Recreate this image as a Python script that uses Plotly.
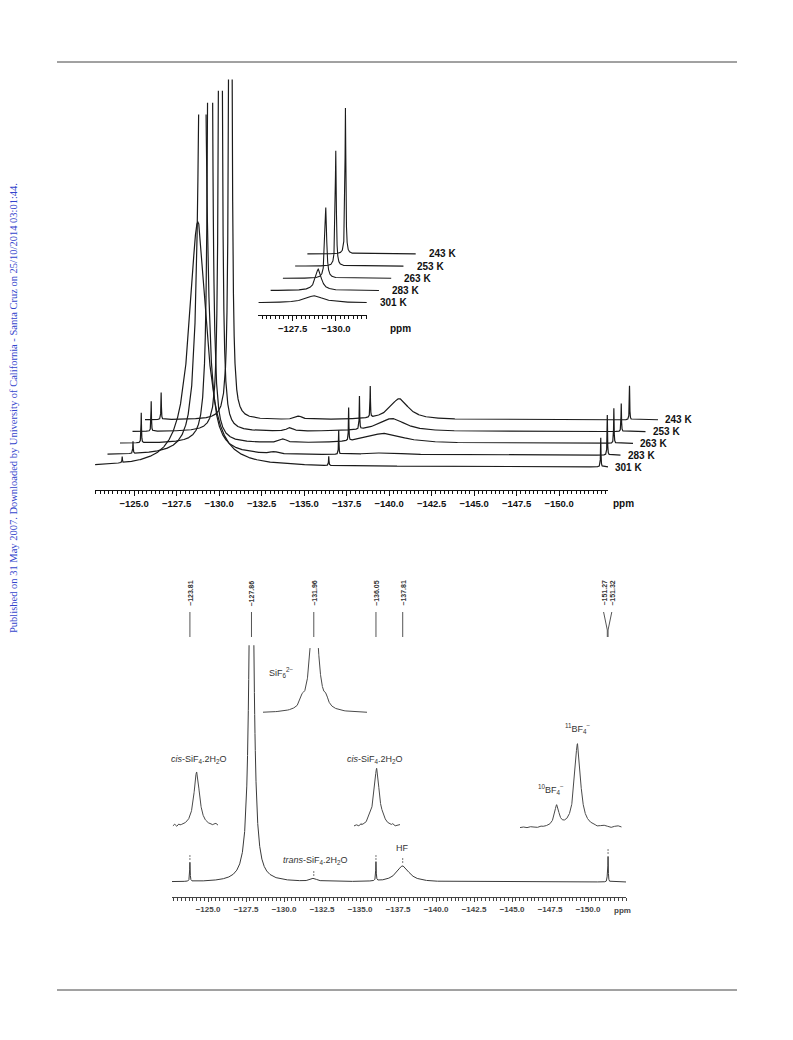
import numpy as np
import plotly.graph_objects as go

W, H = 793, 1040

# ======================= data =======================
temps = ["301 K", "283 K", "263 K", "253 K", "243 K"]

# variable-temperature stack (peak heights in px of the main stack)
sif6_ppm = [-128.75, -128.28, -128.00, -127.87, -127.72]
sif6_height = [245, 750, 2480, 4040, 5110]
sif6_fwhm = [1.20, 0.40, 0.12, 0.072, 0.058]

cisA_ppm = [-124.30, -124.20, -123.95, -123.80, -123.65]
cisA_height = [6, 12, 30, 30, 27]

trans_ppm = [-132.60, -132.50, -132.30, -131.95, -131.75]
trans_height = [0.5, 2.0, 3.6, 3.3, 3.3]

cisB_ppm = [-136.45, -136.30, -136.15, -136.05, -135.95]
cisB_height = [9, 24, 33, 33, 31]

hf_ppm = [-139.2, -139.0, -138.25, -137.95, -137.65]
hf_height = [0.5, 2.0, 10, 13, 21]
hf_fwhm = [3.0, 3.0, 2.6, 1.9, 1.3]

bf4_ppm = [-152.45, -152.10, -151.75, -151.45, -151.20]
bf4_height = [29, 40, 35, 28, 34]

top_tick_vals = [-125.0, -127.5, -130.0, -132.5, -135.0, -137.5, -140.0, -142.5, -145.0, -147.5, -150.0]
top_tick_text = ["−125.0", "−127.5", "−130.0", "−132.5", "−135.0", "−137.5", "−140.0", "−142.5", "−145.0", "−147.5", "−150.0"]
inset_tick_vals = [-127.5, -130.0]
inset_tick_text = ["−127.5", "−130.0"]

# room-temperature spectrum (bottom)
shift_ppm = [-123.81, -127.86, -131.96, -136.05, -137.81, -151.27, -151.32]
shift_text = ["−123.81", "−127.86", "−131.96", "−136.05", "−137.81", "−151.27", "−151.32"]
bottom_height = [19, 500, 3, 19, 16, 6, 25]
bottom_fwhm = [0.04, 0.30, 0.45, 0.04, 1.0, 0.03, 0.035]
marked_peaks = [0, 2, 3, 4, 6]

# expansions in the bottom spectrum: (ppm, height px, fwhm ppm)
sif6_exp = [(-127.86, 147, 0.09), (-127.714, 7, 0.05), (-128.006, 7, 0.05)]
cisL_exp = [(-123.81, 55, 0.056)]
cisL_ripple = [0, 1.5, -0.8, 1.2, 0.2, 2.0, -0.3, 1.0, 0.6, 1.8, 0.0, 2.5, 0.8, 1.6, 3.0, 1.0, 2.4, 0.3, 1.8, -0.2, 1.0, 2.0, 0.5]
cisM_exp = [(-136.05, 58, 0.05), (-135.998, 6, 0.03), (-136.103, 4, 0.03)]
cisM_ripple = [0, 0.8, -0.5, 1.0, 0.0, 1.6, 0.4, 1.2, 2.0, 0.5, 1.5, 0.3, 2.2, 0.6, 1.8, 0.0, 1.2, -0.4, 0.6, 1.4]
bf4_exp = [(-151.27, 21, 0.013), (-151.32, 84, 0.017)]
bf4_ripple = [0, 0.5, -0.2, 0.6, 0.1, -0.4, 0.5, 0.0, 0.8, 1.2, 2.0, 3.0, 5.0, 5.0, 3.5, 2.0, 0.8, 0.4, -0.8, 0.6, 1.4, 0.2, -0.6, 0.4, 1.2, 0.5, -0.3, 0.9, 1.5, 0.4]

inset_label_text = ["SiF<sub>6</sub><sup>2−</sup>",
                    "<i>cis</i>-SiF<sub>4</sub>.2H<sub>2</sub>O",
                    "<i>cis</i>-SiF<sub>4</sub>.2H<sub>2</sub>O",
                    "<sup>11</sup>BF<sub>4</sub><sup>−</sup>",
                    "<sup>10</sup>BF<sub>4</sub><sup>−</sup>",
                    "<i>trans</i>-SiF<sub>4</sub>.2H<sub>2</sub>O",
                    "HF"]
credit_text = "Published on 31 May 2007. Downloaded by University of California - Santa Cruz on 25/10/2014 03:01:44."

# ======================= helpers =======================
def lor(x, c, h, w):
    return h / (1.0 + ((x - c) / (w / 2.0)) ** 2)


def grid(a, b, centers, coarse=0.01, half=0.3, fine=0.0002):
    lo, hi = min(a, b), max(a, b)
    parts = [np.arange(lo, hi + 1e-9, coarse)]
    for c in centers:
        parts.append(np.linspace(c - 1.5, c + 1.5, 1501))
        parts.append(np.linspace(c - half, c + half, int(round(2 * half / fine)) + 1))
    g = np.unique(np.concatenate(parts))
    return g[(g >= lo) & (g <= hi)]


def inset_curve(lo, hi, peaks, ripple=None):
    n = len(ripple) if ripple is not None else 60
    rx = np.linspace(lo, hi, n)
    rv = np.array(ripple, float) if ripple is not None else np.zeros(n)
    keep = np.ones(n, bool)
    fx = []
    for c, h, w in peaks:
        keep &= np.abs(rx - c) > 2.5 * w
        fx.append(np.linspace(c - 2.5 * w, c + 2.5 * w, 301))
    x = np.concatenate([rx[keep]] + fx)
    r = np.concatenate([rv[keep]] + [np.zeros(301)] * len(fx))
    order = np.argsort(x)
    x, r = x[order], r[order]
    y = r.copy()
    for c, h, w in peaks:
        y = y + lor(x, c, h, w)
    return x, y


def dom_x(a, b):
    return [a / W, b / W]


def dom_y(top, bottom):
    return [1 - bottom / H, 1 - top / H]


def px(xp, yp):
    return xp / W, 1 - yp / H


hidden = dict(visible=False, showgrid=False, zeroline=False, fixedrange=True)
SANS = "Liberation Sans, Arial, Helvetica, sans-serif"


def tick_axis(dom, rng, anchor, vals, texts, size, color, major_len, minor_len, lw=1.0):
    return dict(domain=dom, range=rng, anchor=anchor, tickmode="array", tickvals=vals, ticktext=texts,
                ticks="outside", ticklen=major_len, tickwidth=1, tickcolor=color,
                showline=True, linecolor=color, linewidth=lw, showgrid=False, zeroline=False,
                tickfont=dict(family=SANS, size=size, color=color, weight="bold"),
                minor=dict(dtick=0.25, tick0=0, ticks="outside", ticklen=minor_len, tickwidth=0.8,
                           tickcolor=color, showgrid=False),
                fixedrange=True)


fig = go.Figure()
layout = {}
annotations = []
LINE = "#1b1b1b"
BOLD10 = dict(family=SANS, size=10, color="#111111", weight="bold")


def note(x, y, text, xref="paper", yref="paper", xanchor="left", yanchor="middle", font=None, angle=0):
    if xref == "paper":
        x, y = px(x, y)
    annotations.append(dict(x=x, y=y, xref=xref, yref=yref, text=text, showarrow=False,
                            xanchor=xanchor, yanchor=yanchor, textangle=angle, font=font))


# ======================= top: variable temperature stack =======================
PX_TOP = 17.0
top_lo = -122.7
top_hi = top_lo - (608 - 95) / PX_TOP
dx_ppm = 12.5 / PX_TOP
dy_px = 11.8
CLIP = 341
BASE_TOP = 467

layout["xaxis"] = dict(hidden, domain=dom_x(95, 720), range=[top_lo, top_lo - (720 - 95) / PX_TOP], anchor="y")
layout["yaxis"] = dict(hidden, domain=dom_y(62, 490), range=[-(490 - BASE_TOP), BASE_TOP - 62], anchor="x")
layout["xaxis2"] = tick_axis(dom_x(95, 608), [top_lo, top_hi], "y2", top_tick_vals, top_tick_text,
                             9.5, "#111111", 5, 3)
layout["yaxis2"] = dict(hidden, domain=dom_y(480, 490), range=[0, 1], anchor="x2")
fig.add_trace(go.Scatter(x=[None], y=[None], xaxis="x2", yaxis="y2", showlegend=False, hoverinfo="skip"))

for k, t in enumerate(temps):
    xs = grid(top_lo, top_hi, [sif6_ppm[k], cisA_ppm[k], cisB_ppm[k], bf4_ppm[k]])
    ys = (lor(xs, sif6_ppm[k], sif6_height[k], sif6_fwhm[k])
          + lor(xs, cisA_ppm[k], cisA_height[k], 0.03)
          + lor(xs, trans_ppm[k], trans_height[k], 0.45)
          + lor(xs, cisB_ppm[k], cisB_height[k], 0.03)
          + lor(xs, hf_ppm[k], hf_height[k], hf_fwhm[k])
          + lor(xs, bf4_ppm[k], bf4_height[k], 0.03))
    ys = np.where(ys > CLIP, np.nan, ys)
    fig.add_trace(go.Scatter(x=xs - k * dx_ppm, y=ys + k * dy_px, mode="lines",
                             line=dict(color=LINE, width=1.2), xaxis="x", yaxis="y",
                             showlegend=False, hoverinfo="skip", connectgaps=False))
    note(top_hi - k * dx_ppm - 0.3, k * dy_px, t, "x", "y", font=BOLD10)

note(611, 503, "ppm", font=BOLD10)

# ---- top inset (expansion of the SiF6 line) ----
PX_IN = 17.33
in_lo = -125.52
in_hi = in_lo - (366.7 - 258.3) / PX_IN
in_dx = 12.25 / PX_IN
in_scale = 35.0                    # main-stack px per inset px
in_dy = 12.2 * in_scale
IN_BASE = 302.7
layout["xaxis3"] = dict(hidden, domain=dom_x(258.3, 450), range=[in_lo, in_lo - (450 - 258.3) / PX_IN], anchor="y3")
layout["yaxis3"] = dict(hidden, domain=dom_y(75, 315), range=[(IN_BASE - 315) * in_scale, (IN_BASE - 75) * in_scale], anchor="x3")
layout["xaxis4"] = tick_axis(dom_x(258.3, 366.7), [in_lo, in_hi], "y4", inset_tick_vals, inset_tick_text,
                             9.5, "#111111", 5, 3)
layout["yaxis4"] = dict(hidden, domain=dom_y(305, 315), range=[0, 1], anchor="x4")
fig.add_trace(go.Scatter(x=[None], y=[None], xaxis="x4", yaxis="y4", showlegend=False, hoverinfo="skip"))

for k, t in enumerate(temps):
    xs = grid(in_lo, in_hi, [sif6_ppm[k]], coarse=0.01, half=0.3, fine=0.0005)
    ys = lor(xs, sif6_ppm[k], sif6_height[k], sif6_fwhm[k])
    fig.add_trace(go.Scatter(x=xs - k * in_dx, y=ys + k * in_dy, mode="lines",
                             line=dict(color=LINE, width=1.1), xaxis="x3", yaxis="y3",
                             showlegend=False, hoverinfo="skip"))
    note(in_hi - k * in_dx - 0.65, k * in_dy, t, "x3", "y3", font=BOLD10)
note(388, 328, "ppm", font=BOLD10)

# ======================= bottom: room temperature spectrum =======================
PX_BOT = 15.2
bot_lo = -125.0 + (208 - 172) / PX_BOT
bot_hi = -125.0 - (626 - 208) / PX_BOT
BASE = 882
BCLIP = 237
GREY = "#3a3a3a"
layout["xaxis5"] = tick_axis(dom_x(172, 626), [bot_lo, bot_hi], "y5", top_tick_vals, top_tick_text,
                             8, "#444444", 4, 2.5)
layout["yaxis5"] = dict(hidden, domain=dom_y(600, 897), range=[-(897 - BASE), BASE - 600], anchor="x5")

xs = grid(bot_lo, bot_hi, shift_ppm)
ys = np.zeros_like(xs)
for c, h, w in zip(shift_ppm, bottom_height, bottom_fwhm):
    ys = ys + lor(xs, c, h, w)
ys = np.where(ys > BCLIP, np.nan, ys)
fig.add_trace(go.Scatter(x=xs, y=ys, mode="lines", line=dict(color=GREY, width=1),
                         xaxis="x5", yaxis="y5", showlegend=False, hoverinfo="skip", connectgaps=False))

# small marker dashes above the assigned peaks
mx, my = [], []
for i in marked_peaks:
    mx += [shift_ppm[i], shift_ppm[i], None]
    my += [bottom_height[i] + 3, bottom_height[i] + 8, None]
fig.add_trace(go.Scatter(x=mx, y=my, mode="lines", line=dict(color="#777777", width=1, dash="2px,1px"),
                         xaxis="x5", yaxis="y5", showlegend=False, hoverinfo="skip"))

# peak list at the top of the spectrum
label_x = list(shift_ppm)
for i in range(len(label_x) - 1):
    if abs(label_x[i] - label_x[i + 1]) < 0.4:
        mid = (shift_ppm[i] + shift_ppm[i + 1]) / 2
        label_x[i], label_x[i + 1] = mid + 0.27, mid - 0.27
lx, ly = [], []
for p, q in zip(shift_ppm, label_x):
    lx += [q, p, p, None]
    ly += [270, 252 if q != p else 262, 245, None]
fig.add_trace(go.Scatter(x=lx, y=ly, mode="lines", line=dict(color="#555555", width=1),
                         xaxis="x5", yaxis="y5", showlegend=False, hoverinfo="skip"))
for q, txt in zip(label_x, shift_text):
    note(q, 274, txt, "x5", "y5", xanchor="center", yanchor="bottom", angle=-90,
         font=dict(family=SANS, size=7, color="#333333", weight="bold"))


# ---- expansions ----
def add_inset(ax_id, x_left, x_right, y_top, y_base, y_bottom, c_px, c_ppm, scale, peaks, ripple, clip=None):
    lo = c_ppm + (c_px - x_left) / scale
    hi = c_ppm - (x_right - c_px) / scale
    layout["xaxis%d" % ax_id] = dict(hidden, domain=dom_x(x_left, x_right), range=[lo, hi], anchor="y%d" % ax_id)
    layout["yaxis%d" % ax_id] = dict(hidden, domain=dom_y(y_top, y_bottom),
                                     range=[-(y_bottom - y_base), y_base - y_top], anchor="x%d" % ax_id)
    x, y = inset_curve(lo, hi, peaks, ripple)
    if clip is not None:
        y = np.where(y > clip, np.nan, y)
    fig.add_trace(go.Scatter(x=x, y=y, mode="lines", line=dict(color="#4a4a4a", width=1),
                             xaxis="x%d" % ax_id, yaxis="y%d" % ax_id, showlegend=False,
                             hoverinfo="skip", connectgaps=False))


add_inset(6, 263, 367, 640, 713, 720, 314.2, -127.86, 82.0, sif6_exp, None, clip=65)
add_inset(7, 172.7, 218, 760, 827, 835, 196.7, -123.81, 120.0, cisL_exp, cisL_ripple)
add_inset(8, 354, 400, 760, 827, 835, 376.7, -136.05, 120.0, cisM_exp, cisM_ripple)
add_inset(9, 520, 621.7, 735, 828, 836, 577.5, -151.32, 416.0, bf4_exp, bf4_ripple)

lab_px = [(281, 672), (199, 759), (375, 759), (578, 728), (551, 789), (315, 860), (402, 848)]
for txt, (xp_, yp_) in zip(inset_label_text, lab_px):
    note(xp_, yp_, txt, xanchor="center", font=dict(family=SANS, size=9, color="#333333"))
note(612, 910, "ppm", font=dict(family=SANS, size=8, color="#444444", weight="bold"))

# ======================= page furniture =======================
note(14, 408, credit_text, xanchor="center", angle=-90,
     font=dict(family="Liberation Serif, Times New Roman, serif", size=10.5, color="#3344cc"))

shapes = []
for yp_ in (62, 990):
    shapes.append(dict(type="line", xref="paper", yref="paper", x0=57 / W, x1=737 / W,
                       y0=1 - yp_ / H, y1=1 - yp_ / H, line=dict(color="#444444", width=1)))

fig.update_layout(width=W, height=H, margin=dict(l=0, r=0, t=0, b=0),
                  font=dict(family=SANS, size=10, color="#222222"),
                  paper_bgcolor="white", plot_bgcolor="rgba(0,0,0,0)", showlegend=False,
                  annotations=annotations, shapes=shapes, **layout)

fig.write_html("out.html", config={"displayModeBar": False},
               post_script="document.body.style.margin='0';")
